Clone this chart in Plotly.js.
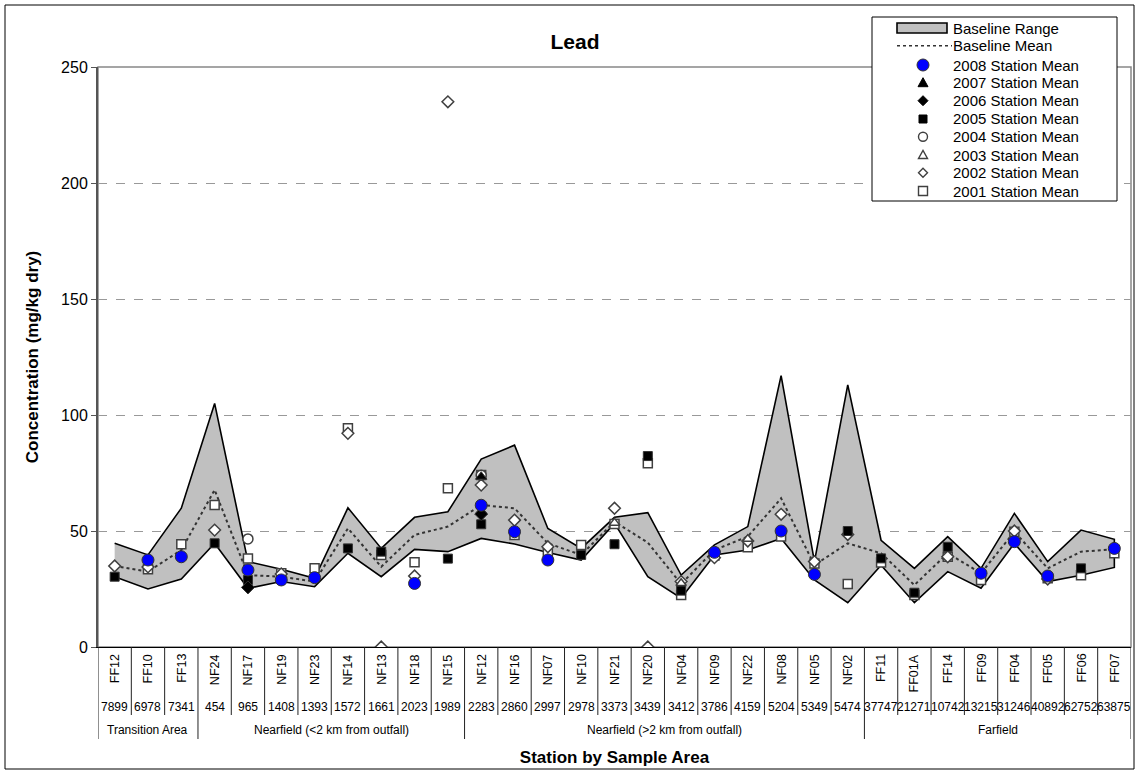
<!DOCTYPE html>
<html>
<head>
<meta charset="utf-8">
<script src="https://cdn.plot.ly/plotly-3.0.1.min.js"></script>
<style>
  html, body { margin: 0; padding: 0; background: #fff; }
  #chart { width: 1139px; height: 774px; }
</style>
</head>
<body>
<div id="chart"></div>
<script>
// ---------- DATA ----------
const stations = ['FF12','FF10','FF13','NF24','NF17','NF19','NF23','NF14','NF13','NF18','NF15','NF12','NF16','NF07','NF10','NF21','NF20','NF04','NF09','NF22','NF08','NF05','NF02','FF11','FF01A','FF14','FF09','FF04','FF05','FF06','FF07'];
const stationIds = ['7899','6978','7341','454','965','1408','1393','1572','1661','2023','1989','2283','2860','2997','2978','3373','3439','3412','3786','4159','5204','5349','5474','37747','21271','10742','13215','31246','40892','62752','63875'];
const areaNames = ['Transition Area','Nearfield (<2 km from outfall)','Nearfield (>2 km from outfall)','Farfield'];
const areaCounts = [3, 8, 12, 8];

const baseUpper = [44.7,39.7,59.8,105,36.8,33.5,29.6,60,42.5,55.9,58.3,81,87,51.1,42.5,55.9,57.9,31,44,51.9,117,36.8,113,46,33.9,47.6,33.9,57.6,36.8,50.4,46.4];
const baseLower = [30.3,25,29.3,44.7,25.3,28.2,26,40.4,30.3,42.1,41.1,46.8,44.4,40.7,37.5,53.3,30.3,21,39.7,41.8,46.8,28.9,19.1,35.3,19.1,32.5,25.3,44.7,28.2,30.9,34.3];
const baseMean  = [34.9,32.5,41.8,67.7,31,30.3,28.2,51.1,34.6,48.3,51.9,61.2,59.8,44.7,39.7,54,45,27.2,41.8,47.6,64.1,35.3,44.7,40.4,26.7,40.4,31.8,49.7,33.9,41.1,42.1];

const m2008 = [null,37.5,38.9,null,33.2,28.9,29.9,null,null,27.4,null,61.1,49.7,37.5,null,null,null,null,40.8,null,50,31.3,null,null,null,null,31.8,45.4,30.6,null,42.5];
const m2007 = [null,null,null,null,null,null,null,null,null,null,null,73.4,null,null,null,null,null,null,null,null,null,null,null,null,null,null,null,null,null,null,null];
const m2006 = [null,null,null,null,25.7,null,null,null,null,null,null,57.3,null,null,null,null,null,null,null,null,null,null,null,null,null,null,null,null,null,null,null];
const m2005 = [30.3,null,null,44.7,28.9,null,null,42.5,41.1,null,38.1,52.9,null,null,39.7,44.3,82.3,24.3,null,null,null,null,50,38.2,23.4,43.2,null,null,null,33.9,null];
const m2004 = [null,null,null,null,46.6,null,null,null,null,null,null,74,null,null,null,null,null,null,null,null,null,null,null,null,null,null,null,null,null,null,null];
const m2003 = [null,null,null,null,null,null,null,null,null,null,null,58.5,null,null,null,53.5,null,27.5,null,46.5,null,null,null,null,null,null,null,null,null,null,null];
const m2002 = [34.9,34.5,null,50.4,null,31.5,null,92.1,0,30.6,235,69.8,54.7,43.2,null,59.8,0,28.2,38.5,45.7,57.2,36.8,48.5,null,null,38.9,null,50,29.3,null,null];
const m2001 = [null,33.5,44.3,61.2,38.2,31.8,33.9,94.3,39.7,36.5,68.4,74.1,48.3,41.1,44,53,79.2,22.4,39.4,43,47.6,36,27.2,36.4,22.4,38.9,28.9,49.7,29.6,30.9,40.4];

const legendLabels = ['Baseline Range','Baseline Mean','2008 Station Mean','2007 Station Mean','2006 Station Mean','2005 Station Mean','2004 Station Mean','2003 Station Mean','2002 Station Mean','2001 Station Mean'];

// ---------- GEOMETRY HELPERS (layout only) ----------
const W = 1139, H = 774;
const M = {l: 98, r: 8, t: 67, b: 127};
const PW = W - M.l - M.r, PH = H - M.t - M.b;
const PX = x => (x - M.l) / PW;
const PY = y => (H - M.b - y) / PH;
const FONT = 'Arial, Liberation Sans, sans-serif';

const idx = stations.map((_, i) => i);

// ---------- TRACES ----------
const traces = [];
traces.push({
  x: idx.concat(idx.slice().reverse()),
  y: baseUpper.concat(baseLower.slice().reverse()),
  type: 'scatter', mode: 'lines', fill: 'toself',
  fillcolor: '#c0c0c0', line: {color: '#000', width: 1.6},
  hoverinfo: 'skip', showlegend: false
});
traces.push({
  x: idx, y: baseMean, type: 'scatter', mode: 'lines',
  line: {color: '#333', width: 2, dash: 'dot'},
  hoverinfo: 'skip', showlegend: false
});
const openLine = {color: '#404040', width: 1.5};
const series = [
  {y: m2001, symbol: 'square', size: 9, color: '#fff', line: openLine},
  {y: m2002, symbol: 'diamond', size: 9, color: '#fff', line: openLine},
  {y: m2003, symbol: 'triangle-up', size: 9, color: '#fff', line: openLine},
  {y: m2004, symbol: 'circle', size: 10, color: '#fff', line: openLine},
  {y: m2005, symbol: 'square', size: 9, color: '#000', line: {color: '#333', width: 1}},
  {y: m2006, symbol: 'diamond', size: 10, color: '#000', line: {color: '#333', width: 1}},
  {y: m2007, symbol: 'triangle-up', size: 10, color: '#000', line: {color: '#333', width: 1}},
  {y: m2008, symbol: 'circle', size: 12, color: '#0000ff', line: {color: '#333', width: 1}}
];
series.forEach(s => traces.push({
  x: idx, y: s.y, type: 'scatter', mode: 'markers',
  marker: {symbol: s.symbol, size: s.size, color: s.color, line: s.line},
  showlegend: false, hoverinfo: 'y'
}));

// ---------- SHAPES & ANNOTATIONS ----------
const shapes = [];
const annotations = [];

// outer chart border
shapes.push({type: 'rect', xref: 'paper', yref: 'paper', x0: PX(5), x1: PX(1134), y0: PY(769), y1: PY(5), line: {color: '#000', width: 1}, layer: 'below'});
// plot frame (top / right, gray)
shapes.push({type: 'rect', xref: 'paper', yref: 'paper', x0: 0, x1: 1, y0: 0, y1: 1, line: {color: '#888', width: 1.5}, layer: 'below'});

// table below x axis
const groupStarts = [0];
areaCounts.forEach((c, k) => groupStarts.push(groupStarts[k] + c));
for (let i = 0; i <= stations.length; i++) {
  const isGroup = groupStarts.indexOf(i) >= 0;
  shapes.push({type: 'line', xref: 'x', yref: 'paper', x0: i - 0.5, x1: i - 0.5, y0: 0, y1: PY(isGroup ? 739 : 715), line: {color: '#222', width: 1}});
}
stations.forEach((s, i) => {
  annotations.push({x: i, y: PY(652), xref: 'x', yref: 'paper', text: s, textangle: -90, xanchor: 'center', yanchor: 'top', showarrow: false, font: {family: FONT, size: 12.5, color: '#000'}});
  annotations.push({x: i, y: PY(707), xref: 'x', yref: 'paper', text: stationIds[i], xanchor: 'center', yanchor: 'middle', showarrow: false, font: {family: FONT, size: 12, color: '#000'}});
});
areaNames.forEach((a, k) => {
  const c = (groupStarts[k] + groupStarts[k + 1] - 1) / 2;
  annotations.push({x: c, y: PY(730), xref: 'x', yref: 'paper', text: a, xanchor: 'center', yanchor: 'middle', showarrow: false, font: {family: FONT, size: 12, color: '#000'}});
});

// manual legend
const rowY = [28.3, 45.7, 65, 82.7, 100.7, 119, 136.7, 155, 172.7, 191];
const symX = PX(923);
shapes.push({type: 'rect', xref: 'paper', yref: 'paper', x0: PX(872), x1: PX(1117), y0: PY(201), y1: PY(17), line: {color: '#000', width: 1}, fillcolor: '#fff', layer: 'above'});
shapes.push({type: 'rect', xref: 'paper', yref: 'paper', x0: PX(897), x1: PX(947), y0: PY(33), y1: PY(23), line: {color: '#000', width: 1.6}, fillcolor: '#c0c0c0', layer: 'above'});
shapes.push({type: 'line', xref: 'paper', yref: 'paper', x0: PX(897), x1: PX(952), y0: PY(rowY[1]), y1: PY(rowY[1]), line: {color: '#333', width: 1.5, dash: 'dot'}, layer: 'above'});
function pixShape(row, type, path, x0, x1, y0, y1, fill, lineColor, lw) {
  const s = {type: type, xref: 'paper', yref: 'paper', xsizemode: 'pixel', ysizemode: 'pixel', xanchor: symX, yanchor: PY(rowY[row]), fillcolor: fill, line: {color: lineColor, width: lw}, layer: 'above'};
  if (path) s.path = path; else { s.x0 = x0; s.x1 = x1; s.y0 = y0; s.y1 = y1; }
  shapes.push(s);
}
pixShape(2, 'circle', null, -6, 6, -6, 6, '#0000ff', '#333', 1);
pixShape(3, 'path', 'M-5,-4L5,-4L0,5Z', 0, 0, 0, 0, '#000', '#000', 1);
pixShape(4, 'path', 'M0,5L5,0L0,-5L-5,0Z', 0, 0, 0, 0, '#000', '#000', 1);
pixShape(5, 'rect', null, -4, 4, -4, 4, '#000', '#000', 1);
pixShape(6, 'circle', null, -4.5, 4.5, -4.5, 4.5, '#fff', '#404040', 1.4);
pixShape(7, 'path', 'M-4.5,-3.5L4.5,-3.5L0,4.5Z', 0, 0, 0, 0, '#fff', '#404040', 1.4);
pixShape(8, 'path', 'M0,4.5L4.5,0L0,-4.5L-4.5,0Z', 0, 0, 0, 0, '#fff', '#404040', 1.4);
pixShape(9, 'rect', null, -4.5, 4.5, -4.5, 4.5, '#fff', '#404040', 1.4);
legendLabels.forEach((t, k) => {
  annotations.push({x: PX(951), y: PY(rowY[k]), xref: 'paper', yref: 'paper', text: t, xanchor: 'left', yanchor: 'middle', showarrow: false, font: {family: FONT, size: 15, color: '#000'}});
});

// ---------- LAYOUT ----------
const layout = {
  width: W, height: H,
  margin: {l: M.l, r: M.r, t: M.t, b: M.b, pad: 0},
  paper_bgcolor: '#fff', plot_bgcolor: '#fff',
  showlegend: false,
  font: {family: FONT, color: '#000'},
  title: {text: 'Lead', font: {size: 21, weight: 'bold', color: '#000'}, x: 575 / W, xref: 'container', xanchor: 'center', y: 1 - 42 / H, yref: 'container', yanchor: 'middle'},
  xaxis: {
    range: [-0.5, stations.length - 0.5], showticklabels: false, ticks: '', showgrid: false, zeroline: false,
    showline: true, linecolor: '#000', linewidth: 1, fixedrange: true,
    title: {text: 'Station by Sample Area', font: {size: 17, weight: 'bold', color: '#000'}, standoff: 104}
  },
  yaxis: {
    range: [0, 250], tickvals: [0, 50, 100, 150, 200, 250], ticks: 'outside', ticklen: 5, tickcolor: '#555', tickwidth: 1,
    showline: true, linecolor: '#555', linewidth: 2, zeroline: false,
    showgrid: true, gridcolor: '#999', griddash: 'dash', gridwidth: 1,
    tickfont: {size: 16, color: '#000'}, fixedrange: true,
    title: {text: 'Concentration (mg/kg dry)', font: {size: 17, weight: 'bold', color: '#000'}, standoff: 18}
  },
  shapes: shapes,
  annotations: annotations
};

Plotly.newPlot('chart', traces, layout, {displayModeBar: false, staticPlot: true});
</script>
</body>
</html>
